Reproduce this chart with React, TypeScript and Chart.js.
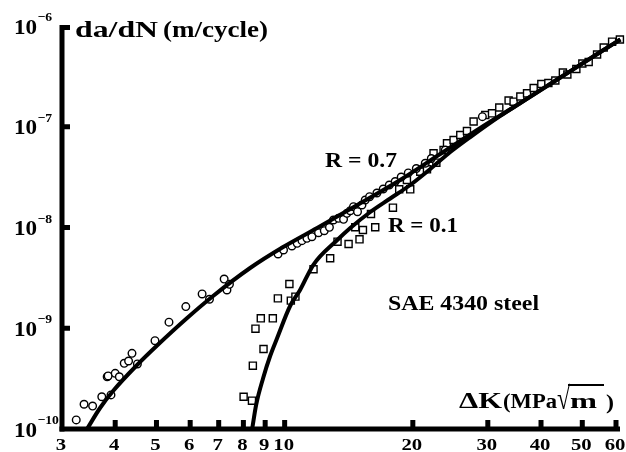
import React, { useEffect, useRef } from "react";
import { Chart, registerables } from "chart.js";

Chart.register(...registerables);

const FONT = "'Liberation Serif', 'Times New Roman', Times, serif";

// Measured crack growth rates, R = 0.7 (circles)
const kR07 = [
  3.24, 3.38, 3.54, 3.72, 3.91, 3.83, 3.85, 4.0, 4.09, 4.2, 4.3, 4.38, 4.51, 4.96, 5.35, 5.86,
  6.4, 6.66, 7.21, 7.32, 7.42, 9.65, 9.94, 10.4, 10.7, 10.98, 11.28, 11.59, 12.01, 12.39, 12.74,
  13.02, 13.38, 13.75, 14.0, 14.26, 14.51, 14.83, 15.19, 15.46, 15.83, 16.47, 17.04, 17.61,
  18.18, 18.78, 19.51, 20.38, 21.39, 22.1, 23.84, 29.13,
];
const rateR07 = [
  1.23e-10, 1.76e-10, 1.69e-10, 2.09e-10, 2.18e-10, 3.3e-10, 3.36e-10, 3.57e-10, 3.3e-10,
  4.49e-10, 4.73e-10, 5.64e-10, 4.42e-10, 7.52e-10, 1.15e-9, 1.64e-9, 2.19e-9, 1.94e-9, 3.08e-9,
  2.4e-9, 2.73e-9, 5.46e-9, 5.98e-9, 6.55e-9, 6.97e-9, 7.4e-9, 7.81e-9, 8.1e-9, 8.88e-9, 9.29e-9,
  1.005e-8, 1.187e-8, 1.234e-8, 1.206e-8, 1.383e-8, 1.468e-8, 1.608e-8, 1.435e-8, 1.672e-8,
  1.875e-8, 2.021e-8, 2.2e-8, 2.41e-8, 2.64e-8, 2.86e-8, 3.17e-8, 3.48e-8, 3.85e-8, 4.34e-8,
  4.84e-8, 5.88e-8, 1.26e-7,
];

// Measured crack growth rates, R = 0.1 (squares)
const kR01 = [
  8.01, 8.38, 8.42, 8.92, 8.54, 8.79, 9.38, 9.64, 10.26, 10.34, 10.6, 11.69, 12.79, 13.31, 14.13,
  14.99, 14.65, 15.27, 15.95, 16.32, 17.96, 18.58, 19.72, 19.37, 20.82, 21.59, 22.71, 23.62,
  24.06, 22.37, 24.93, 25.85, 26.8, 27.78, 29.59, 30.69, 31.92, 33.57, 34.49, 35.77, 37.09,
  38.44, 40.07, 41.62, 43.22, 45.02, 46.12, 48.42, 50.02, 51.76, 54.16, 56.14, 58.75, 61.28,
];
const rateR01 = [
  2.09e-10, 1.91e-10, 4.25e-10, 6.22e-10, 9.9e-10, 1.255e-9, 1.255e-9, 1.98e-9, 2.75e-9, 1.88e-9,
  2.06e-9, 3.85e-9, 4.95e-9, 7.23e-9, 6.86e-9, 7.63e-9, 1.005e-8, 9.45e-9, 1.361e-8, 1.005e-8,
  1.572e-8, 2.394e-8, 2.394e-8, 2.96e-8, 3.58e-8, 3.78e-8, 4.4e-8, 5.88e-8, 6.85e-8, 5.45e-8,
  7.39e-8, 8.28e-8, 9.07e-8, 1.127e-7, 1.308e-7, 1.36e-7, 1.553e-7, 1.822e-7, 1.773e-7,
  1.996e-7, 2.148e-7, 2.424e-7, 2.656e-7, 2.717e-7, 2.877e-7, 3.456e-7, 3.301e-7, 3.742e-7,
  4.243e-7, 4.391e-7, 5.213e-7, 6.117e-7, 6.985e-7, 7.345e-7,
];

// Fitted curves
const fitKR07 = [
  3.435, 3.685, 3.954, 4.502, 5.017, 5.902, 6.792, 8.297, 9.92, 11.92, 14.26, 18.68, 23.2, 28.81,
  35.77, 44.41, 55.14, 61.44,
];
const fitRateR07 = [
  1e-10, 1.616e-10, 2.384e-10, 4.317e-10, 6.743e-10, 1.264e-9, 2.09e-9, 3.963e-9, 6.4e-9,
  9.886e-9, 1.526e-8, 2.961e-8, 5.363e-8, 9.718e-8, 1.72e-7, 3.083e-7, 5.519e-7, 7.345e-7,
];
const fitKR01 = [
  8.389, 8.57, 8.903, 9.246, 9.603, 10.3, 10.87, 11.67, 13.29, 14.26, 15.89, 17.7, 19.72, 21.98,
  24.49, 27.29, 32.1, 35.77, 44.41, 55.14, 61.44,
];
const fitRateR01 = [
  1e-10, 1.73e-10, 3.208e-10, 5.303e-10, 8.0e-10, 1.663e-9, 2.397e-9, 4.244e-9, 7.51e-9,
  9.89e-9, 1.425e-8, 1.94e-8, 2.641e-8, 3.807e-8, 5.616e-8, 7.91e-8, 1.284e-7, 1.72e-7,
  3.083e-7, 5.519e-7, 7.345e-7,
];

const xTickValues = [3, 4, 5, 6, 7, 8, 9, 10, 20, 30, 40, 50, 60];
const yTickExponents = [-10, -9, -8, -7, -6];

const pairs = (xs: number[], ys: number[]) => xs.map((x, i) => ({ x, y: ys[i] }));

type TextOpts = { w?: number; sx?: number; sy?: number; align?: CanvasTextAlign };

// Bold serif text, optionally stretched horizontally to a given width
function put(ctx: CanvasRenderingContext2D, s: string, x: number, y: number, size: number, o: TextOpts = {}) {
  ctx.save();
  ctx.font = `bold ${size}px ${FONT}`;
  const m = ctx.measureText(s).width;
  const sx = o.w ? o.w / m : o.sx ?? 1;
  ctx.translate(x, y);
  ctx.scale(sx, o.sy ?? 1);
  ctx.textAlign = o.align ?? "left";
  ctx.textBaseline = "alphabetic";
  ctx.fillStyle = "#000";
  ctx.fillText(s, 0, 0);
  ctx.restore();
}

const axesAndText = {
  id: "axesAndText",
  afterDraw(chart: any) {
    const { ctx, chartArea: a, scales } = chart;
    const xs = scales.x;
    const ys = scales.y;
    ctx.save();
    ctx.fillStyle = "#000";

    // heavy axis lines
    ctx.fillRect(a.left - 2.5, a.top - 1, 5, a.bottom - a.top + 3.5);
    ctx.fillRect(a.left - 2.5, a.bottom - 2.5, a.right + 4 - (a.left - 2.5), 5);

    // inward tick marks
    yTickExponents.forEach((e) => {
      if (e === -10) return;
      const y = ys.getPixelForValue(Math.pow(10, e));
      ctx.fillRect(a.left, Math.max(y - 2.5, a.top - 1), 8, 5);
    });
    xTickValues.forEach((v) => {
      if (v === 3) return;
      const x = xs.getPixelForValue(v);
      ctx.fillRect(x - 2.5, a.bottom - 9, 5, 7);
    });

    // y tick labels: 10 with superscript exponent
    yTickExponents.forEach((e) => {
      const y = ys.getPixelForValue(Math.pow(10, e));
      put(ctx, "10", 37, y + 7.5, 21, { sx: 1.1, align: "right" });
      put(ctx, `\u2212${-e}`, 37.5, y - 5, 13, { sx: 1.05 });
    });

    // x tick labels
    xTickValues.forEach((v) => {
      const x = xs.getPixelForValue(v) - 1;
      put(ctx, String(v), x, 450, 17, { sx: 1.22, align: "center" });
    });

    // y axis title
    put(ctx, "da/dN", 75, 37, 24, { w: 83 });
    put(ctx, "(m/cycle)", 163, 37, 23, { w: 105 });

    // x axis title with a square-root sign and its bar
    put(ctx, "\u0394K", 459, 408, 24, { w: 43 });
    put(ctx, "(MPa", 503, 408, 20, { w: 54 });
    ctx.font = `bold 19px ${FONT}`;
    const rad = ctx.measureText("\u221A");
    const radTop = 384;
    const radBase = 409;
    const sy = (radBase - radTop) / Math.max(rad.actualBoundingBoxAscent, 1);
    put(ctx, "\u221A", 557, radBase, 19, { w: 13, sy });
    put(ctx, "m", 570, 408, 20, { w: 27 });
    ctx.fillRect(568, radTop, 36, 2);
    put(ctx, ")", 606, 409, 21, { w: 8 });

    // annotations
    put(ctx, "R = 0.7", 325, 167, 21, { w: 72 });
    put(ctx, "R = 0.1", 388, 231.5, 21, { w: 70 });
    put(ctx, "SAE 4340 steel", 388, 310, 22, { w: 151 });

    ctx.restore();
  },
};

export default function App() {
  const ref = useRef<HTMLCanvasElement | null>(null);

  useEffect(() => {
    document.body.style.margin = "0";
    const canvas = ref.current;
    if (!canvas) return;
    let alive = true;
    const chart = new Chart(canvas, {
      type: "scatter",
      data: {
        datasets: [
          {
            label: "R = 0.7 fit",
            data: pairs(fitKR07, fitRateR07),
            showLine: true,
            borderColor: "#000",
            borderWidth: 4,
            pointRadius: 0,
            cubicInterpolationMode: "monotone",
            clip: false,
            order: 0,
          },
          {
            label: "R = 0.1 fit",
            data: pairs(fitKR01, fitRateR01),
            showLine: true,
            borderColor: "#000",
            borderWidth: 4,
            pointRadius: 0,
            cubicInterpolationMode: "monotone",
            clip: false,
            order: 0,
          },
          {
            label: "R = 0.7",
            data: pairs(kR07, rateR07),
            pointStyle: "circle",
            pointRadius: 3.8,
            pointBorderWidth: 1.4,
            pointBorderColor: "#000",
            pointBackgroundColor: "#fff",
            clip: false,
            order: 1,
          },
          {
            label: "R = 0.1",
            data: pairs(kR01, rateR01),
            pointStyle: "rect",
            pointRadius: 5,
            pointBorderWidth: 1.4,
            pointBorderColor: "#000",
            pointBackgroundColor: "#fff",
            clip: false,
            order: 1,
          },
        ],
      },
      options: {
        animation: false,
        responsive: false,
        events: [],
        layout: { padding: { left: 62, right: 10, top: 26, bottom: 23 } },
        scales: {
          x: { type: "logarithmic", min: 3, max: 60, display: false },
          y: { type: "logarithmic", min: 1e-10, max: 1e-6, display: false },
        },
        plugins: {
          legend: { display: false },
          tooltip: { enabled: false },
        },
      },
      plugins: [axesAndText],
    });
    document.fonts
      .load(`bold 20px "Liberation Serif"`)
      .then(() => {
        if (alive) chart.draw();
      })
      .catch(() => {});
    return () => {
      alive = false;
      chart.destroy();
    };
  }, []);

  return (
    <canvas
      ref={ref}
      width={626}
      height={452}
      style={{ display: "block", width: 626, height: 452, background: "#fff" }}
    />
  );
}
